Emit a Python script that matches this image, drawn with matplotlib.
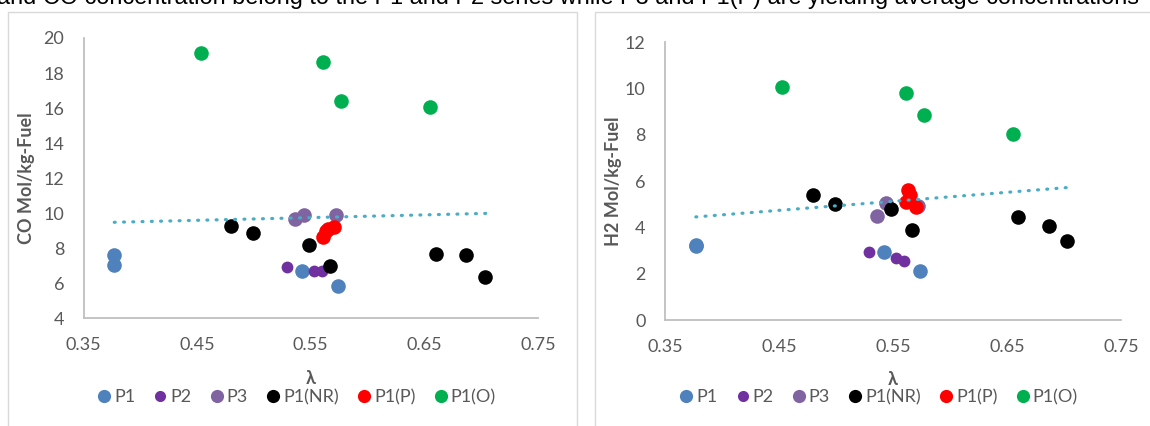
import matplotlib
matplotlib.use('Agg')
import matplotlib.pyplot as plt
from matplotlib.lines import Line2D
from matplotlib.patches import Rectangle

plt.rcParams['font.family'] = ['Lato', 'DejaVu Sans']

# lambda values per series
lam_p1 = [0.377, 0.377, 0.542, 0.574]
lam_p2 = [0.529, 0.553, 0.560]
lam_p3 = [0.536, 0.544, 0.572]
lam_nr = [0.480, 0.499, 0.548, 0.567, 0.660, 0.687, 0.703]
lam_p = [0.561, 0.563, 0.565, 0.570]
lam_o = [0.453, 0.561, 0.577, 0.655]

# CO mol/kg-fuel
co_p1 = [7.62, 7.01, 6.70, 5.81]
co_p2 = [6.91, 6.70, 6.70]
co_p3 = [9.68, 9.90, 9.90]
co_nr = [9.24, 8.86, 8.19, 6.95, 7.66, 7.58, 6.32]
co_p = [8.65, 8.95, 9.10, 9.22]
co_o = [19.14, 18.63, 16.42, 16.04]

# H2 mol/kg-fuel
h2_p1 = [3.25, 3.20, 2.92, 2.10]
h2_p2 = [2.95, 2.66, 2.56]
h2_p3 = [4.49, 5.07, 4.94]
h2_nr = [5.40, 5.01, 4.78, 3.89, 4.46, 4.06, 3.43]
h2_p = [5.11, 5.61, 5.40, 4.89]
h2_o = [10.04, 9.82, 8.83, 8.05]

# trendline ends
trend_x = [0.377, 0.706]
trend_co = [9.47, 9.98]
trend_h2 = [4.45, 5.73]

names = ['P1', 'P2', 'P3', 'P1(NR)', 'P1(P)', 'P1(O)']
colors = ['#4F81BD', '#7030A0', '#8064A2', '#000000', '#FF0000', '#00B050']
msize = [10.5, 8.5, 10.5, 10.5, 10.5, 10.5]
gray = '#595959'

fig = plt.figure(figsize=(11.5, 4.26), dpi=100)

# chart frames
fig.patches.append(Rectangle((8 / 1150, -0.1), 569 / 1150, 1 - 12 / 426 + 0.1,
                             transform=fig.transFigure, fill=False,
                             edgecolor='#D9D9D9', lw=1))
fig.patches.append(Rectangle((595 / 1150, -0.1), 0.6, 1 - 12 / 426 + 0.1,
                             transform=fig.transFigure, fill=False,
                             edgecolor='#D9D9D9', lw=1))

# cut-off sentence from the page above
fig.text(-0.003, 1 - 4 / 426,
         'and CO concentration belong to the P1 and P2 series while P3 and P1(P) are yielding average concentrations',
         fontsize=16.9, family='Liberation Sans', va='baseline', ha='left')

ax1 = fig.add_axes([0.0727, 0.2535, 0.3951, 0.6573])
ax2 = fig.add_axes([0.5783, 0.2488, 0.3965, 0.6526])

panels = [
    (ax1, [co_p1, co_p2, co_p3, co_nr, co_p, co_o], trend_co, (4, 20), 'CO Mol/kg-Fuel', -0.107, -0.282),
    (ax2, [h2_p1, h2_p2, h2_p3, h2_nr, h2_p, h2_o], trend_h2, (0, 12), 'H2 Mol/kg-Fuel', -0.094, -0.277),
]
lams = [lam_p1, lam_p2, lam_p3, lam_nr, lam_p, lam_o]

for ax, ys, trend, ylim, ylab, ylx, legy in panels:
    for x, y, c, ms in zip(lams, ys, colors, msize):
        ax.plot(x, y, 'o', color=c, ms=ms, mec='none', zorder=3)
    ax.plot(trend_x, trend, color='#4BACC6', lw=2.3, linestyle=(0, (0.3, 2.6)),
            dash_capstyle='round', zorder=4)

    ax.set_xlim(0.35, 0.75)
    ax.set_ylim(*ylim)
    ax.set_xticks([0.35, 0.45, 0.55, 0.65, 0.75])
    ax.set_xticklabels(['0.35', '0.45', '0.55', '0.65', '0.75'])
    ax.set_yticks(range(ylim[0], ylim[1] + 1, 2))
    ax.tick_params(length=0, labelsize=13, labelcolor=gray)
    ax.tick_params(axis='y', pad=14)
    ax.tick_params(axis='x', pad=14)
    for s in ['top', 'right']:
        ax.spines[s].set_visible(False)
    for s in ['left', 'bottom']:
        ax.spines[s].set_color('#BFBFBF')
        ax.spines[s].set_linewidth(1.3)
    ax.set_ylabel(ylab, fontsize=13, fontweight='bold', color=gray)
    ax.yaxis.set_label_coords(ylx, 0.5)
    ax.set_xlabel('λ', fontsize=13, fontweight='bold', color=gray)
    ax.xaxis.set_label_coords(0.5, -0.185)

    handles = [Line2D([], [], marker='o', ls='none', color=c, mec='none',
                      ms=(8 if n == 'P2' else 9.5)) for n, c in zip(names, colors)]
    ax.legend(handles, names, ncol=6, loc='center', bbox_to_anchor=(0.47, legy),
              frameon=False, fontsize=13, labelcolor=gray, handlelength=0.6,
              handletextpad=0.25, columnspacing=1.1)

fig.savefig('out.png', dpi=100)
